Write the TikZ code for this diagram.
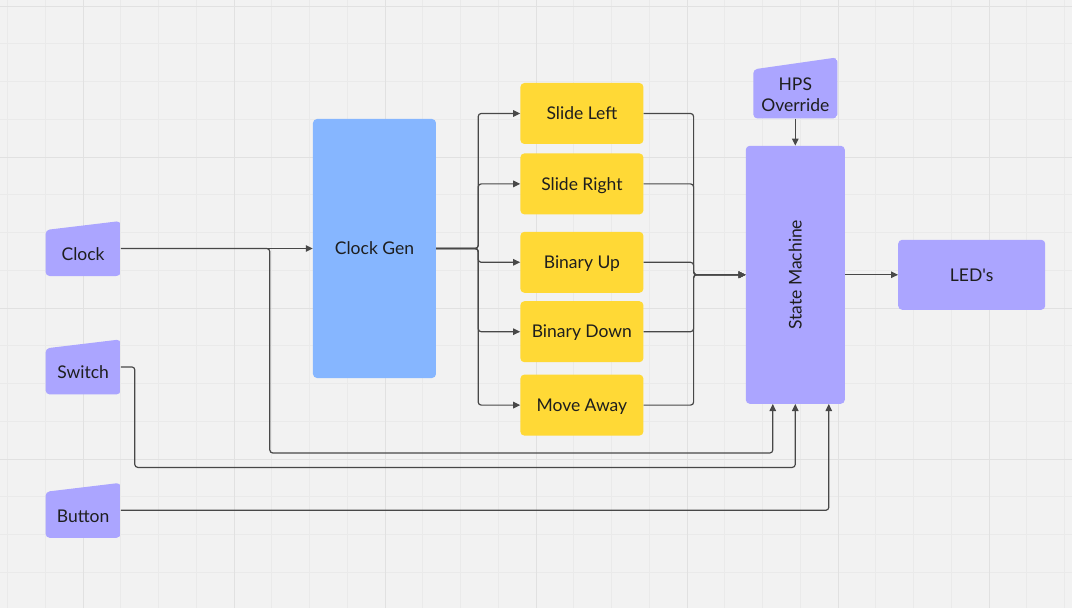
\documentclass[tikz,border=0pt]{standalone}
\usepackage{fontspec}
\setmainfont{Lato}
\usepackage{graphicx}
\usetikzlibrary{positioning,arrows.meta}

\definecolor{bggray}{HTML}{F2F2F2}
\definecolor{gridminor}{HTML}{EAEAEA}
\definecolor{gridmajor}{HTML}{E1E1E1}
\definecolor{inpurple}{HTML}{ABA5FF}
\definecolor{genblue}{HTML}{86B6FF}
\definecolor{opyellow}{HTML}{FFD936}
\definecolor{linegray}{HTML}{484848}
\definecolor{textgray}{HTML}{1E1E1E}

\tikzset{
  box/.style={rounded corners=4pt, inner sep=0pt, text=textgray,
    font=\fontsize{17.5pt}{20.5pt}\selectfont},
  capmid/.style={text height=12.5pt, text depth=0pt},
  slant top/.style={path picture={\fill[inpurple, rounded corners=4pt]
    (path picture bounding box.south west) -- ([yshift=-#1]path picture bounding box.north west)
    -- (path picture bounding box.north east) -- (path picture bounding box.south east) -- cycle;}},
  inbox/.style={box, slant top=9pt, minimum width=75pt, minimum height=55pt,
    text height=23.5pt, text depth=0pt},
  hpsbox/.style={box, slant top=12pt, minimum width=84pt, minimum height=61pt,
    text width=84pt, align=center, text height=26.1pt, text depth=20.5pt},
  genbox/.style={box, capmid, fill=genblue, minimum width=123pt, minimum height=259pt},
  opbox/.style={box, capmid, fill=opyellow, minimum width=123pt, minimum height=61pt},
  smbox/.style={box, fill=inpurple, minimum width=99pt, minimum height=258pt},
  ledbox/.style={box, capmid, fill=inpurple, minimum width=147pt, minimum height=70pt},
  link/.style={draw=linegray, line width=1.2pt, rounded corners=3pt,
    -{Triangle[length=7pt,width=6.5pt]}}
}

\begin{document}
\begin{tikzpicture}

  \useasboundingbox (-374.5pt,-359.5pt) rectangle (697.5pt,248.5pt);
  \fill[bggray] (-374.5pt,-359.5pt) rectangle (697.5pt,248.5pt);
  \draw[gridminor, line width=0.9pt, step=37.75pt, shift={(10.5pt,16pt)}] (-420pt,-420pt) grid (720pt,260pt);
  \draw[gridmajor, line width=0.9pt, step=151pt, shift={(10.5pt,91.5pt)}] (-460pt,-460pt) grid (720pt,200pt);

  \node[genbox] (gen) {Clock Gen};
  \node[inbox, left=192pt of gen] (clk) {Clock};
  \node[inbox, below=63pt of clk] (sw) {Switch};
  \node[inbox, below=88pt of sw] (btn) {Button};

  \node[opbox, right=84pt of gen, yshift=135pt] (sl) {Slide Left};
  \node[opbox, below=9pt of sl] (sr) {Slide Right};
  \node[opbox, below=17pt of sr] (bu) {Binary Up};
  \node[opbox, below=8pt of bu] (bd) {Binary Down};
  \node[opbox, below=12pt of bd] (ma) {Move Away};

  \node[smbox, right=102pt of bu, yshift=-12.5pt] (sm) {\rotatebox{90}{State Machine}};
  \node[hpsbox, above=27pt of sm] (hps) {HPS\\Override};
  \node[ledbox, right=53pt of sm] (led) {LED\textquotesingle s};

  \draw[link] (clk.east) -- (gen.west);
  \draw[link] (gen.east) -- ++(42pt,0) |- (sl.west);
  \draw[link] (gen.east) -- ++(42pt,0) |- (sr.west);
  \draw[link] (gen.east) -- ++(42pt,0) |- (bu.west);
  \draw[link] (gen.east) -- ++(42pt,0) |- (bd.west);
  \draw[link] (gen.east) -- ++(42pt,0) |- (ma.west);

  \draw[link] (sl.east) -- ++(50pt,0) |- (sm.west);
  \draw[link] (sr.east) -- ++(50pt,0) |- (sm.west);
  \draw[link] (bu.east) -- ++(50pt,0) |- (sm.west);
  \draw[link] (bd.east) -- ++(50pt,0) |- (sm.west);
  \draw[link] (ma.east) -- ++(50pt,0) |- (sm.west);

  \draw[link] (hps.south) -- (sm.north);
  \draw[link] (sm.east) -- (led.west);

  \draw[link] (clk.east) -- ++(149pt,0) -- ++(0,-204.5pt) -| ([xshift=-22.5pt]sm.south);
  \draw[link] (sw.east) -- ++(14pt,0) -- ++(0,-100.5pt) -| (sm.south);
  \draw[link] (btn.east) -| ([xshift=33.5pt]sm.south);

\end{tikzpicture}
\end{document}
